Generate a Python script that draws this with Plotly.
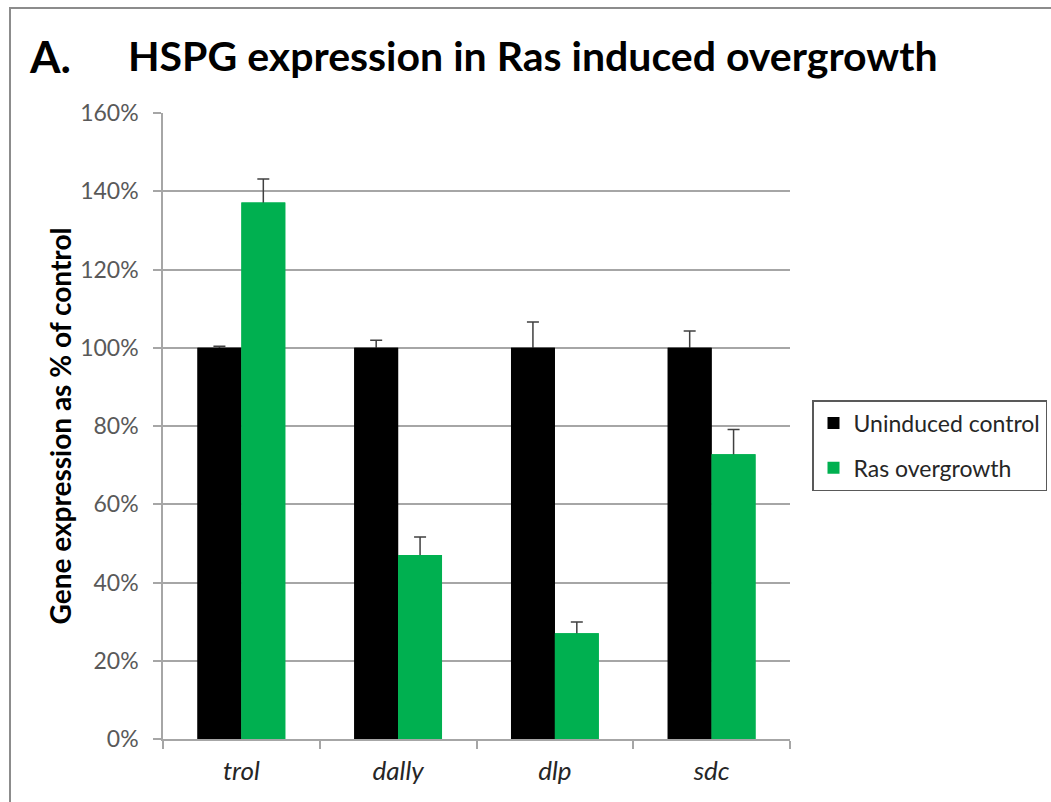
import plotly.graph_objects as go

# Gene names along the x axis
genes = ["trol", "dally", "dlp", "sdc"]

# Expression as % of control, with error (SEM) for each condition
control_values = [100, 100, 100, 100]
control_errors = [0.4, 1.9, 6.6, 4.3]
ras_values = [137.1, 47.0, 27.0, 72.8]
ras_errors = [6.0, 4.6, 2.9, 6.3]

y_ticks = [0, 20, 40, 60, 80, 100, 120, 140, 160]
y_tick_labels = [f"{v}%" for v in y_ticks]

FONT = "Lato"
W, H = 1051, 802
L, R, T, B = 163, 261, 113, 63
PW, PH = W - L - R, H - T - B


def px_x(x):
    return (x - L) / PW


def px_y(y):
    return (H - B - y) / PH


err_style = dict(type="data", visible=True, symmetric=False,
                 color="#404040", thickness=1.5, width=6)

series = [
    ("Uninduced control", control_values, control_errors, "#000000", "ctrl"),
    ("Ras overgrowth", ras_values, ras_errors, "#00B050", "ras"),
]

fig = go.Figure()
for name, vals, errs, color, grp in series:
    # bar with upward error bar; the lower cap sits just inside the bar
    fig.add_trace(go.Bar(
        name=name, x=genes, y=vals,
        marker=dict(color=color, line=dict(width=0)),
        error_y=dict(array=errs, arrayminus=[0.6] * len(genes), **err_style),
        offsetgroup=grp, legendgroup=grp, showlegend=True,
    ))
    # same bar redrawn on top so only the upper whisker stays visible
    fig.add_trace(go.Bar(
        name=name, x=genes, y=vals,
        marker=dict(color=color, line=dict(width=0)),
        offsetgroup=grp, legendgroup=grp, showlegend=False, hoverinfo="skip",
    ))

fig.update_layout(
    width=W, height=H,
    margin=dict(l=L, r=R, t=T, b=B, autoexpand=False),
    paper_bgcolor="white", plot_bgcolor="white",
    barmode="group", bargap=0.44, bargroupgap=0,
    font=dict(family=FONT, color="#262626"),
    showlegend=True,
    legend=dict(
        x=px_x(812), y=px_y(400), xanchor="left", yanchor="top",
        bordercolor="#595959", borderwidth=1.5,
        font=dict(family=FONT, size=23, color="#262626"),
        tracegroupgap=12, traceorder="grouped",
        itemclick=False,
    ),
    xaxis=dict(
        showline=True, linecolor="#a6a6a6", linewidth=1.5,
        ticks="outside", ticklen=8, tickcolor="#a6a6a6", tickwidth=1.5,
        tickson="boundaries",
        tickfont=dict(family=FONT, size=26, color="#262626", style="italic"),
        ticklabelstandoff=8,
        showgrid=False,
    ),
    yaxis=dict(
        range=[0, 160], tickvals=y_ticks, ticktext=y_tick_labels,
        showline=True, linecolor="#a6a6a6", linewidth=1.5,
        ticks="outside", ticklen=8, tickcolor="#a6a6a6", tickwidth=1.5,
        tickfont=dict(family=FONT, size=23, color="#595959"),
        ticklabelstandoff=10,
        showgrid=True, gridcolor="#a6a6a6", gridwidth=1.5,
        zeroline=False,
        title=dict(text="<b>Gene expression as % of control</b>",
                   font=dict(family=FONT, size=28, color="#000000"), standoff=0),
    ),
    shapes=[dict(
        type="rect", xref="paper", yref="paper",
        x0=px_x(10), x1=px_x(1070), y0=px_y(830), y1=px_y(8),
        line=dict(color="#8c8c8c", width=2), fillcolor="rgba(0,0,0,0)", layer="below",
    )],
    annotations=[
        dict(text="<b>A.</b>", xref="paper", yref="paper", x=px_x(27), y=px_y(56),
             xanchor="left", yanchor="middle", showarrow=False,
             font=dict(family=FONT, size=44, color="#000000")),
        dict(text="<b>HSPG expression in Ras induced overgrowth</b>", xref="paper", yref="paper",
             x=px_x(126), y=px_y(56), xanchor="left", yanchor="middle", showarrow=False,
             font=dict(family=FONT, size=41, color="#000000")),
    ],
)

fig.write_html("out.html")
